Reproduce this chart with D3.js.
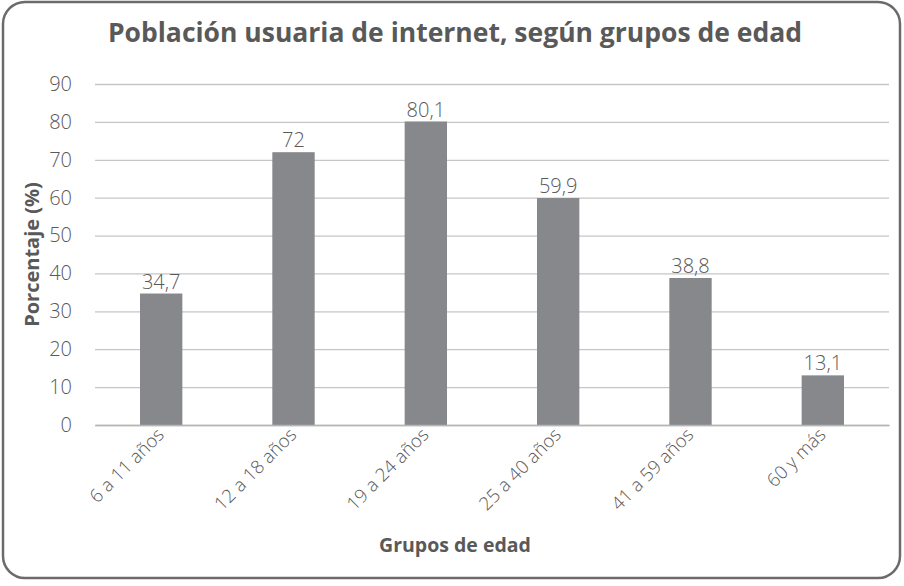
<!DOCTYPE html>
<html>
<head>
<meta charset="utf-8">
<script src="https://cdn.jsdelivr.net/npm/d3@7"></script>
<style>
  body { margin: 0; background: #fff; }
  text { font-family: 'Open Sans', 'Liberation Sans', sans-serif; }
</style>
</head>
<body>
<div id="chart"></div>
<script>
const categories = ['6 a 11 años', '12 a 18 años', '19 a 24 años', '25 a 40 años', '41 a 59 años', '60 y más']
const values = [34.7, 72, 80.1, 59.9, 38.8, 13.1]
const yTicks = [0, 10, 20, 30, 40, 50, 60, 70, 80, 90]

const margin = { top: 84, left: 95, right: 15, bottom: 161 }
const totalWidth = 904
const totalHeight = 586
const width = totalWidth - margin.left - margin.right
const height = totalHeight - margin.top - margin.bottom

const root = d3
  .select('#chart')
  .append('svg')
  .attr('width', totalWidth)
  .attr('height', totalHeight)

// rounded frame
root
  .append('rect')
  .attr('x', 3)
  .attr('y', 2)
  .attr('width', 897)
  .attr('height', 576)
  .attr('rx', 22)
  .attr('ry', 22)
  .style('fill', '#fff')
  .style('stroke', '#6b6b6b')
  .style('stroke-width', 2.5)

root
  .append('text')
  .attr('x', 455)
  .attr('y', 42)
  .style('text-anchor', 'middle')
  .style('fill', '#595959')
  .style('font-weight', 700)
  .style('font-size', '26.5px')
  .text('Población usuaria de internet, según grupos de edad')

const svg = root
  .append('g')
  .attr('transform', 'translate(' + margin.left + ',' + margin.top + ')')

const xPositionScale = d3
  .scaleBand()
  .domain(categories)
  .range([0, width])
  .paddingInner(0.68)
  .paddingOuter(0.34)

const yPositionScale = d3.scaleLinear().domain([0, 90]).range([height, 0])

const yAxis = d3
  .axisLeft(yPositionScale)
  .tickValues(yTicks)
  .tickSize(-width)
  .tickPadding(23)
  .tickFormat(d3.format('d'))

svg
  .append('g')
  .attr('class', 'y axis')
  .call(yAxis)
  .call(g => g.select('.domain').remove())
  .call(g => g.selectAll('line').style('stroke', '#c6c6c6').style('stroke-width', 1.3))
  .call(g =>
    g
      .selectAll('text')
      .style('fill', '#595959')
      .style('font-size', '20px')
      .style('font-weight', 300)
  )

svg
  .selectAll('.bar')
  .data(values)
  .enter()
  .append('rect')
  .attr('class', 'bar')
  .attr('x', (d, i) => xPositionScale(categories[i]))
  .attr('y', d => yPositionScale(d))
  .attr('width', xPositionScale.bandwidth())
  .attr('height', d => height - yPositionScale(d))
  .style('fill', '#87888c')

svg
  .selectAll('.bar-label')
  .data(values)
  .enter()
  .append('text')
  .attr('class', 'bar-label')
  .attr('x', (d, i) => xPositionScale(categories[i]) + xPositionScale.bandwidth() / 2)
  .attr('y', d => yPositionScale(d) - 5)
  .style('text-anchor', 'middle')
  .style('fill', '#595959')
  .style('font-size', '20px')
  .style('font-weight', 300)
  .text(d => String(d).replace('.', ','))

const xAxis = d3.axisBottom(xPositionScale).tickSize(0).tickPadding(0)

svg
  .append('g')
  .attr('class', 'x axis')
  .attr('transform', 'translate(0,' + height + ')')
  .call(xAxis)
  .call(g => g.select('.domain').style('stroke', '#b5b5b5').style('stroke-width', 1.5))
  .call(g =>
    g
      .selectAll('text')
      .attr('dy', null)
      .attr('y', 0)
      .attr('transform', 'translate(4,11) rotate(-45)')
      .style('text-anchor', 'end')
      .style('fill', '#595959')
      .style('font-size', '18.5px')
      .style('font-weight', 300)
  )

svg
  .append('text')
  .attr('x', width / 2 - 37)
  .attr('y', height + 127)
  .style('text-anchor', 'middle')
  .style('fill', '#595959')
  .style('font-weight', 700)
  .style('font-size', '19.5px')
  .text('Grupos de edad')

svg
  .append('text')
  .attr('transform', 'translate(-56,' + height / 2 + ') rotate(-90)')
  .style('text-anchor', 'middle')
  .style('fill', '#595959')
  .style('font-weight', 700)
  .style('font-size', '20px')
  .text('Porcentaje (%)')
</script>
</body>
</html>
